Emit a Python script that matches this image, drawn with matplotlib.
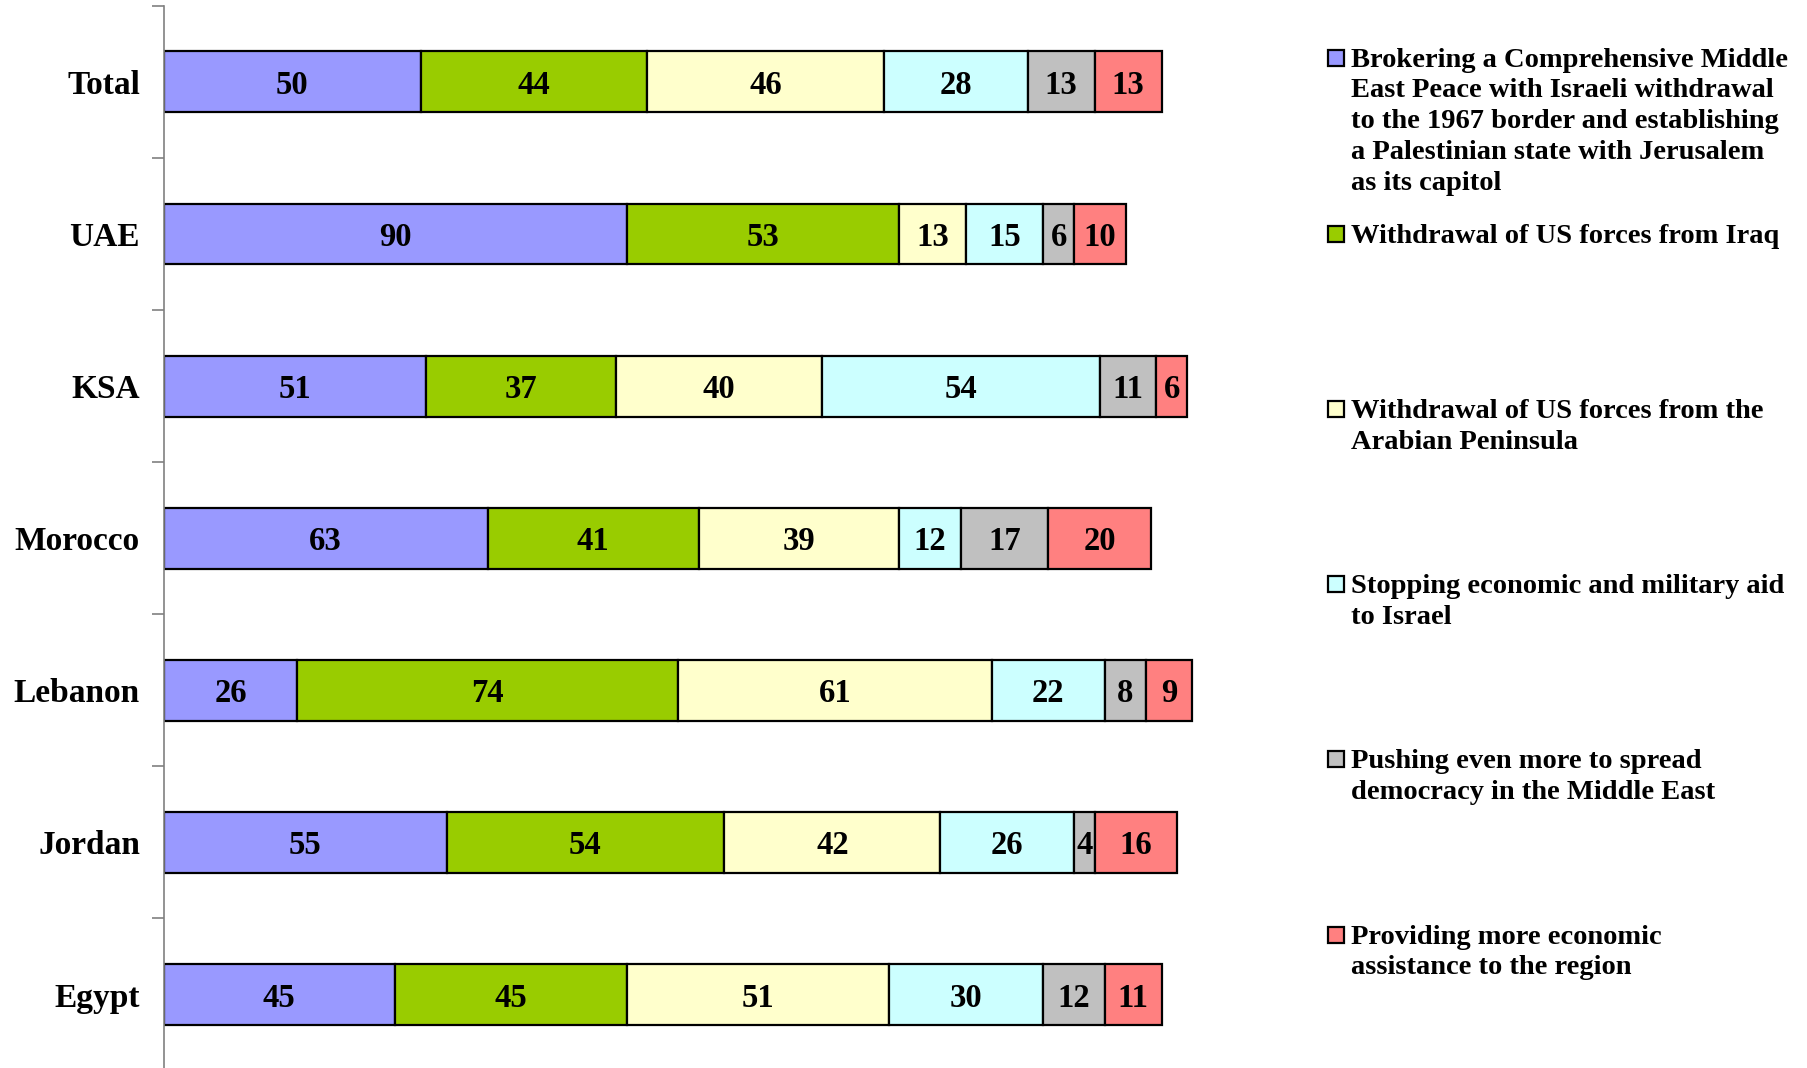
import matplotlib
matplotlib.use("Agg")
import matplotlib.pyplot as plt
import numpy as np
from matplotlib.patches import Rectangle

# countries, top to bottom
countries = ["Total", "UAE", "KSA", "Morocco", "Lebanon", "Jordan", "Egypt"]

# one list per policy option, same order as countries
peace = [50, 90, 51, 63, 26, 55, 45]
iraq = [44, 53, 37, 41, 74, 54, 45]
peninsula = [46, 13, 40, 39, 61, 42, 51]
israel_aid = [28, 15, 54, 12, 22, 26, 30]
democracy = [13, 6, 11, 17, 8, 4, 12]
assistance = [13, 10, 6, 20, 9, 16, 11]

legend_labels = [
    "Brokering a Comprehensive Middle\nEast Peace with Israeli withdrawal\nto the 1967 border and establishing\na Palestinian state with Jerusalem\nas its capitol",
    "Withdrawal of US forces from Iraq",
    "Withdrawal of US forces from the\nArabian Peninsula",
    "Stopping economic and military aid\nto Israel",
    "Pushing even more to spread\ndemocracy in the Middle East",
    "Providing more economic\nassistance to the region",
]
colors = ["#9999FF", "#99CC00", "#FFFFCC", "#CCFFFF", "#C0C0C0", "#FF8080"]

series = [peace, iraq, peninsula, israel_aid, democracy, assistance]

plt.rcParams['font.family'] = ['Liberation Serif', 'DejaVu Serif']
plt.rcParams['font.weight'] = 'bold'

W, H = 1807, 1068
fig = plt.figure(figsize=(W / 100, H / 100), dpi=100)
ax = fig.add_axes([163.6 / W, 1 - 1070.6 / H, 220 * 5.144 / W, 1064.8 / H])

y = np.arange(len(countries))
left = np.zeros(len(countries))
for vals, col in zip(series, colors):
    vals = np.array(vals)
    ax.barh(y, vals, left=left, height=0.4, color=col,
            edgecolor="black", linewidth=1.6)
    for yi, l, v in zip(y, left, vals):
        ax.text(l + v / 2, yi, str(v), ha="center", va="center_baseline",
                fontsize=23.5, fontweight="bold")
    left = left + vals

ax.set_xlim(0, 220)
ax.set_ylim(6.5, -0.5)

for s in ["top", "right", "bottom"]:
    ax.spines[s].set_visible(False)
ax.spines["left"].set_color("#808080")
ax.spines["left"].set_linewidth(1.2)

ax.set_xticks([])
ax.set_yticks(y)
ax.set_yticklabels(countries, fontsize=24, fontweight="bold")
ax.set_yticks(np.arange(-0.5, 7.0, 1.0), minor=True)
ax.tick_params(axis="y", which="major", length=0, pad=17)
ax.tick_params(axis="y", which="minor", length=9, width=1.2, color="#808080")

# legend drawn by hand so that each entry sits at its own height
leg_y = [57.6, 234, 409, 584, 759, 934.6]
for lab, col, ly in zip(legend_labels, colors, leg_y):
    fig.patches.append(Rectangle((1328 / W, 1 - (ly + 8) / H), 16 / W, 16 / H,
                                 transform=fig.transFigure, facecolor=col,
                                 edgecolor="black", linewidth=1.6))
    fig.text(1350.6 / W, 1 - (ly - 10) / H, lab, ha="left", va="top",
             fontsize=20.5, fontweight="bold", linespacing=1.31)

fig.savefig("out.png", dpi=100)
